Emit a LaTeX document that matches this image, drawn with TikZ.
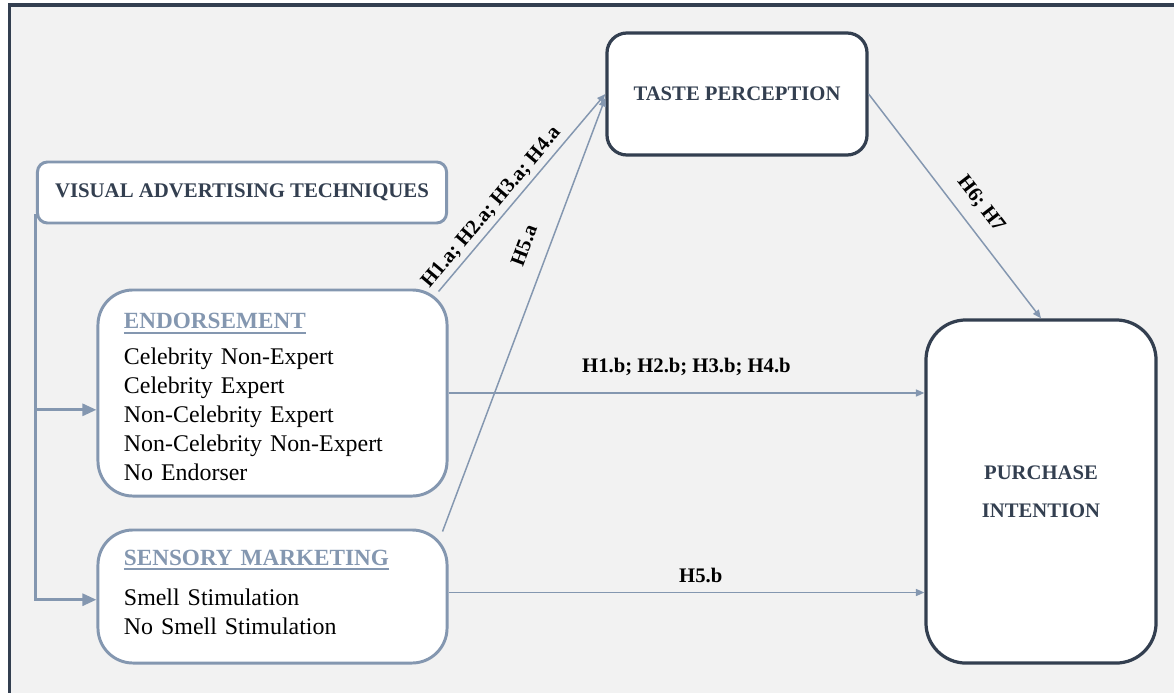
\documentclass[tikz,border=0pt]{standalone}
\usepackage{fontspec}
\setmainfont{Liberation Serif}
\usetikzlibrary{arrows.meta, positioning, calc}
\definecolor{darkslate}{HTML}{333F50}
\definecolor{greyblue}{HTML}{8497B0}
\definecolor{panelgrey}{HTML}{F2F2F2}
\newcommand{\capsfont}{\fontsize{14.7}{17.6}\selectfont\bfseries}
\newcommand{\itemfont}{\fontsize{17}{20.6}\selectfont}
\newcommand{\boxtitle}[1]{{\color{greyblue}\fontsize{16.5}{20.6}\selectfont\bfseries
  \setbox0\hbox{#1}\rlap{\rule[-3.6pt]{\wd0}{1.4pt}}\box0}}

\begin{document}
\begin{tikzpicture}[x=0.025cm, y=-0.025cm,
  lightbox/.style={draw=greyblue, line width=2.1pt, fill=white},
  darkbox/.style={draw=darkslate, line width=2.3pt, fill=white, font=\capsfont,
    text=darkslate, align=center},
  listbox/.style={lightbox, rounded corners=0.875cm, minimum width=8.725cm,
    text width=7.425cm, inner xsep=0.65cm, align=left, font=\itemfont},
  link/.style={draw=greyblue, line width=1.05pt, -{Triangle[length=6pt,width=5pt]}},
  feed/.style={draw=greyblue, line width=2.1pt, -{Triangle[length=10pt,width=8.5pt]}},
  hyp/.style={font=\capsfont, text=black, sloped}]

\useasboundingbox (0,0) rectangle (1174,692);
\fill [white] (0,0) rectangle (1174,692);
\filldraw [fill=panelgrey, draw=darkslate, line width=2.4pt] (9.5,5) rectangle (1200,720);

\node [lightbox, rounded corners=0.25cm, minimum width=10.225cm, minimum height=1.525cm,
  font=\fontsize{14.8}{18}\selectfont\bfseries, text=darkslate] (vat) at (242,192.5)
  {\raisebox{-2pt}{VISUAL ADVERTISING TECHNIQUES}};

\node [listbox, minimum height=5.15cm] (endo) at (272.5,393)
  {\rule{0pt}{16.5pt}\boxtitle{ENDORSEMENT}\\[5pt]
  Celebrity Non-Expert\\
  Celebrity Expert\\
  Non-Celebrity Expert\\
  Non-Celebrity Non-Expert\\
  No Endorser};

\node [listbox, minimum height=3.325cm] (sens) at (272.5,596.5)
  {\boxtitle{SENSORY MARKETING}\\[8pt]
  Smell Stimulation\\
  No Smell Stimulation\rule[-6.5pt]{0pt}{0pt}};

\node [darkbox, rounded corners=0.5cm, minimum width=6.5cm, minimum height=3.05cm]
  (taste) at (737,94) {\raisebox{-2pt}{TASTE PERCEPTION}};
\node [darkbox, rounded corners=1cm, minimum width=5.75cm, minimum height=8.575cm]
  (purch) at (1041,491.5) {PURCHASE\\[9.4pt]INTENTION};

\draw [feed] ([yshift=0.25cm]vat.south west) |- ([yshift=-0.42cm]endo.west);
\draw [feed] ([yshift=0.25cm]vat.south west) |- ([yshift=-0.08cm]sens.west);

\draw [link] ([xshift=-0.25cm,yshift=-0.075cm]endo.north east) --
  node[hyp, above, pos=0.38] {H1.a; H2.a; H3.a; H4.a} (taste.west);
\draw [link] ([xshift=-0.15cm,yshift=-0.075cm]sens.north east) --
  node[hyp, above=0.3cm, pos=0.64] {H5.a} ([yshift=-0.1cm]taste.west);
\draw [link] (taste.east) -- node[hyp, above=0.2cm, pos=0.55] {H6; H7} (purch.north);
\draw [link] (endo.east) -- node[hyp, above=0.3cm] {H1.b; H2.b; H3.b; H4.b}
  (endo.east -| purch.west);
\draw [link] ([yshift=0.1cm]sens.east) -- node[hyp, above=0.1cm, pos=0.53] {H5.b}
  ([yshift=0.1cm]sens.east -| purch.west);
\end{tikzpicture}
\end{document}
